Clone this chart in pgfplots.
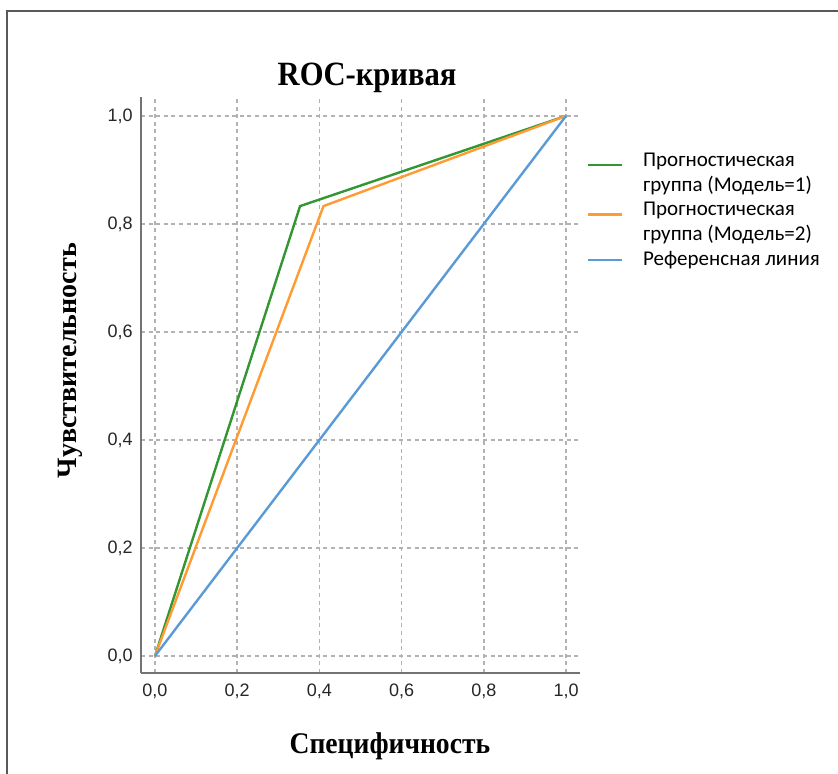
\documentclass[border=0pt]{standalone}
\usepackage{fontspec}
\setmainfont{Liberation Serif}
\newfontfamily\arial{Liberation Sans}
\newfontfamily\calib{Carlito}
\usepackage{pgfplots}
\pgfplotsset{compat=1.18}
\pgfplotsset{shiftedlegend/.style={legend image code/.code={\draw[##1] (0cm,4.2pt) -- (0.6cm,4.2pt);}}}
\definecolor{cgreen}{RGB}{50,150,50}
\definecolor{corange}{RGB}{255,155,50}
\definecolor{cblue}{RGB}{90,155,215}
\begin{document}
\begin{tikzpicture}
\useasboundingbox (0pt,0pt) rectangle (419pt,386.5pt);
\draw[line width=1pt, color=black!65] (3.5pt,-1pt) -- (3.5pt,381pt) -- (420pt,381pt);
\begin{axis}[
  at={(70.5pt,50pt)}, anchor=south west,
  scale only axis, width=219.5pt, height=288pt,
  xmin=-0.034, xmax=1.034, ymin=-0.0315, ymax=1.035,
  axis x line*=bottom, axis y line*=left,
  axis line style={color=black!55, line width=0.8pt, -},
  xtick={0,0.2,0.4,0.6,0.8,1.0}, ytick={0,0.2,0.4,0.6,0.8,1.0},
  major tick length=0pt,
  grid=major,
  grid style={dash pattern=on 2pt off 1.8pt, color=black!30, line width=0.7pt},
  tick label style={font=\arial\fontsize{9}{10}\selectfont, color=black!85},
  xticklabel style={inner sep=0pt, anchor=north, yshift=-5.5pt},
  yticklabel style={inner sep=0pt, anchor=east, xshift=-4pt},
  /pgf/number format/.cd, use comma, fixed, fixed zerofill, precision=1, assume math mode=true,
  /pgfplots/.cd,
  title={ROC-кривая},
  title style={at={(axis description cs:0.515,0.9995)}, anchor=base, yshift=0pt, xscale=0.9, font=\bfseries\fontsize{17}{20}\selectfont},
  xlabel={Специфичность},
  xlabel style={at={(axis description cs:0.567,-0.139)}, anchor=base, xscale=0.92, font=\bfseries\fontsize{15}{18}\selectfont},
  ylabel={Чувствительность},
  ylabel style={at={(axis description cs:-0.146,0.542)}, anchor=base, font=\bfseries\fontsize{14}{17}\selectfont},
  legend cell align=left,
  legend style={at={(axis description cs:1.014,0.911)}, anchor=north west, draw=none, fill=none, inner sep=0pt,
    font=\calib\fontsize{10.5}{12.5}\selectfont, cells={align=left}, row sep=0pt,
    /tikz/every odd column/.append style={column sep=8pt}},
]
\addplot[cgreen, line width=1.2pt, shiftedlegend] coordinates {(0,0) (0.353,0.833) (1,1)};
\addlegendentry{{Прогностическая\\группа (Модель=1)}}
\addplot[corange, line width=1.2pt, shiftedlegend] coordinates {(0,0) (0.41,0.833) (1,1)};
\addlegendentry{{Прогностическая\\группа (Модель=2)}}
\addplot[cblue, line width=1.2pt] coordinates {(0,0) (1,1)};
\addlegendentry{Референсная линия}
\end{axis}
\end{tikzpicture}
\end{document}
